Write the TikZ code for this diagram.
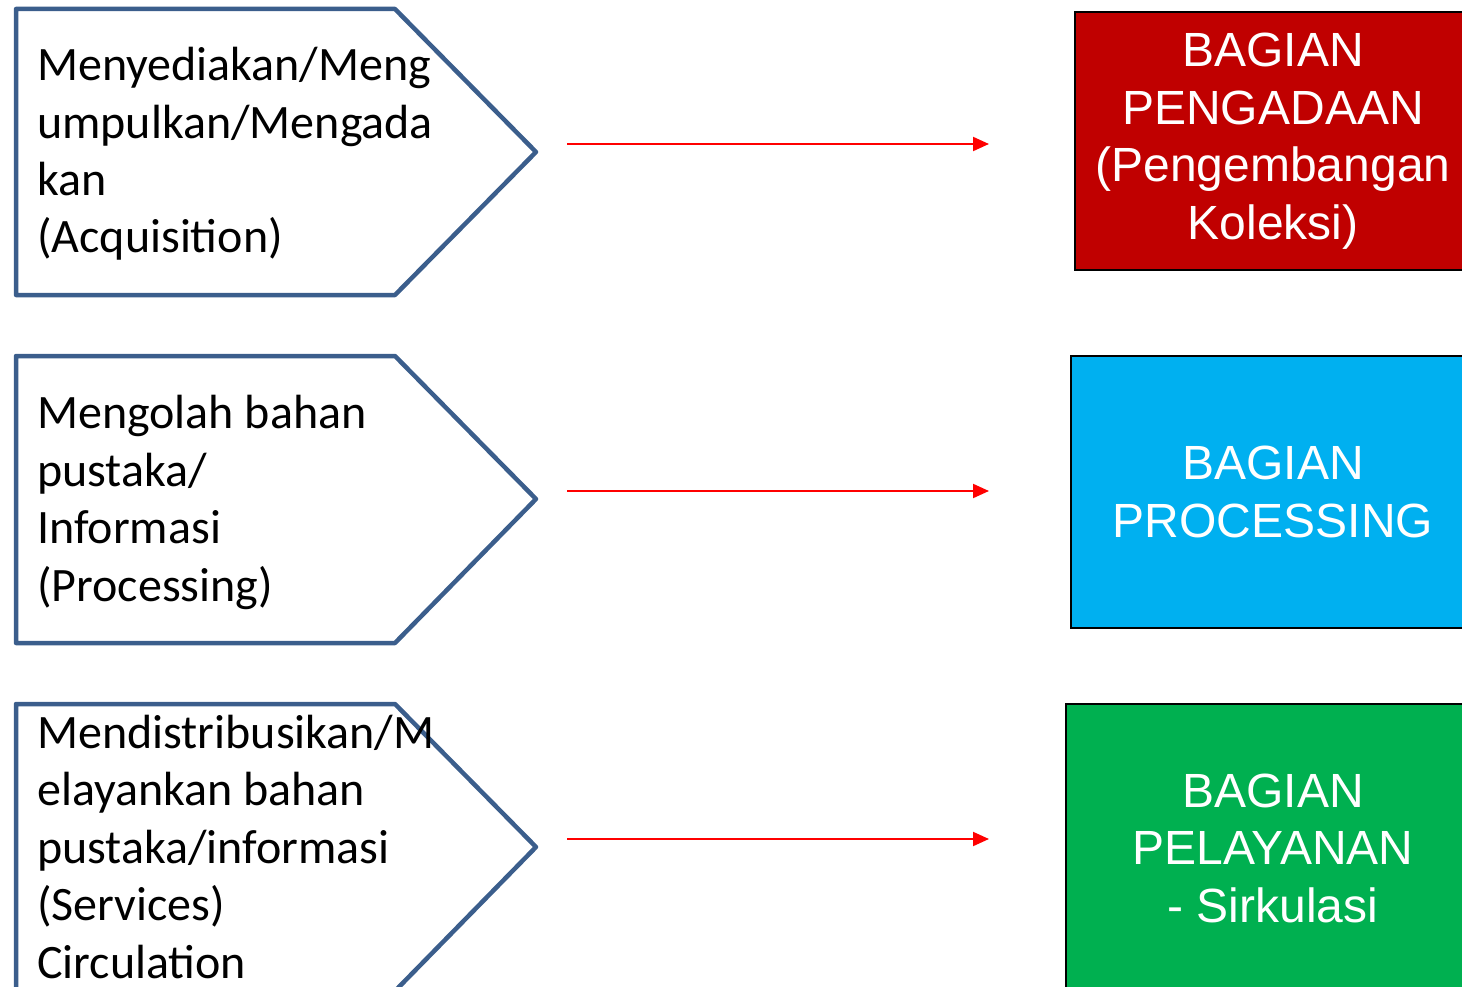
\documentclass[tikz,border=0pt]{standalone}
\usepackage{fontspec}
\setmainfont{Carlito}
\newfontfamily\arialf{Liberation Sans}
\usetikzlibrary{arrows.meta}
\definecolor{pentblue}{HTML}{3B5E8C}
\definecolor{bred}{HTML}{C00000}
\definecolor{bblue}{HTML}{00B0F0}
\definecolor{bgreen}{HTML}{00B050}
\tikzset{
  pent/.style={draw=pentblue, line width=4.5pt, line join=round, fill=white},
  lefttext/.style={inner sep=0pt, align=left, font=\fontsize{48}{57.5}\selectfont},
  bagian/.style={draw=black, line width=2pt, text=white, align=center, inner sep=0pt,
    font=\arialf\fontsize{48}{57.5}\selectfont},
  conn/.style={draw=red, line width=2pt, -{Triangle[length=16pt,width=14pt]}}
}
\begin{document}
\begin{tikzpicture}[x=1pt,y=-1pt]
\useasboundingbox (0,0) rectangle (1462,987);
\clip (0,0) rectangle (1462,987);
% pentagons
\draw[pent] (16,9) -- (395,9) -- (536,152) -- (395,295) -- (16,295) -- cycle;
\draw[pent] (16,356) -- (395,356) -- (536,499) -- (395,643) -- (16,643) -- cycle;
\draw[pent] (16,704) -- (395,704) -- (536,847) -- (395,991) -- (16,991) -- cycle;
% texts (anchored at the baseline of the last line)
\node[lefttext, anchor=base west] (t1) at (37,253) {Menyediakan/Meng\\umpulkan/Mengada\\kan\\(Acquisition)};
\node[lefttext, anchor=base west] (t2) at (37,601) {Mengolah bahan\\pustaka/\\Informasi\\(Processing)};
\node[lefttext, anchor=base west] (t3) at (37,978) {Mendistribusikan/M\\elayankan bahan\\pustaka/informasi\\(Services)\\Circulation};
% boxes
\node[bagian, fill=bred, minimum width=396pt, minimum height=258pt] (b1) at (1273,141)
  {BAGIAN\\PENGADAAN\\(Pengembangan\\Koleksi)};
\node[bagian, fill=bblue, minimum width=404pt, minimum height=272pt] (b2) at (1273,492)
  {BAGIAN\\PROCESSING};
\node[bagian, fill=bgreen, minimum width=414pt, minimum height=288pt] (b3) at (1273,848)
  {BAGIAN\\PELAYANAN\\- Sirkulasi};
% connectors
\coordinate (s1) at (567,144); \coordinate (e1) at (989,144);
\coordinate (s2) at (567,491); \coordinate (e2) at (989,491);
\coordinate (s3) at (567,839); \coordinate (e3) at (989,839);
\draw[conn] (s1) -- (e1);
\draw[conn] (s2) -- (e2);
\draw[conn] (s3) -- (e3);
\end{tikzpicture}
\end{document}
